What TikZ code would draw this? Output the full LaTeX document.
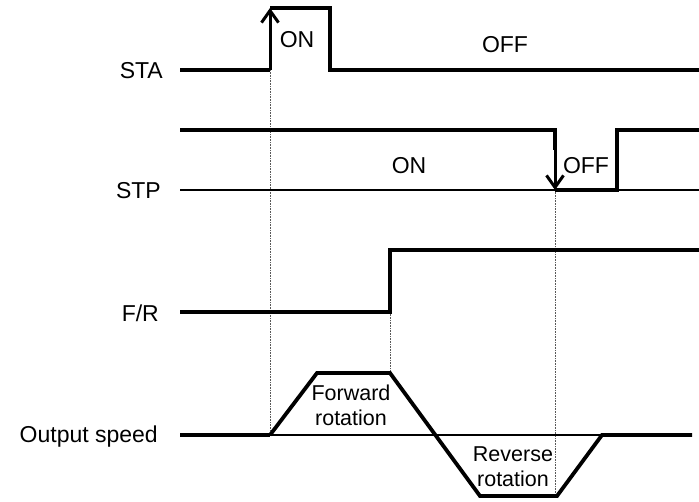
\documentclass[tikz,border=0pt]{standalone}
\usepackage{fontspec}
\setmainfont{Liberation Sans}
\usetikzlibrary{arrows.meta}
\begin{document}
\begin{tikzpicture}[
  x=1pt, y=-1pt,
  sig/.style={line width=3.8pt, line join=miter},
  base/.style={line width=1.4pt},
  guide/.style={densely dotted, line width=0.6pt, gray!70!black},
  edge/.style={line width=3pt, -{Straight Barb[length=12pt, width=17pt, line width=3pt]}},
  lbl/.style={font=\fontsize{23}{26}\selectfont, inner sep=0pt},
  signame/.style={lbl, anchor=east},
  rot/.style={font=\fontsize{21.5}{25}\selectfont, inner sep=0pt, align=center}
]
\useasboundingbox (0,0) rectangle (699,501);
% guide lines
\draw[guide] (270,70) -- (270,435);
\draw[guide] (390,312) -- (390,373);
\draw[guide] (555,190) -- (555,496);
% STA
\node[signame] (sta) at (163,71) {STA};
\draw[sig] (180,70) -- (270,70);
\draw[edge] (270,70) -- (270,8);
\draw[sig] (270,8) -- (330,8) -- (330,70) -- (699,70);
\node[lbl] (staon) at (297,40) {ON};
\node[lbl] (staoff) at (505,45) {OFF};
% STP
\node[signame] (stp) at (161,191) {STP};
\draw[base] (180,190) -- (699,190);
\draw[sig] (180,130) -- (555,130) -- (555,150);
\draw[edge] (555,130) -- (555,190);
\draw[sig] (555,190) -- (617,190) -- (617,130) -- (699,130);
\node[lbl] (stpon) at (409,166) {ON};
\node[lbl] (stpoff) at (586,166) {OFF};
% F/R
\node[signame] (fr) at (159,313) {F/R};
\draw[sig] (180,312) -- (390,312) -- (390,250) -- (699,250);
% Output speed
\node[signame] (out) at (158,437) {Output speed};
\draw[sig] (180,435) -- (270,435);
\draw[base] (270,435) -- (602,435);
\draw[sig] (270,435) -- (317,373) -- (390,373) -- (480,496) -- (557,496) -- (602,435) -- (692,435);
\node[rot] (fwd) at (351,405) {Forward\\rotation};
\node[rot] (rev) at (513,467) {Reverse\\rotation};
\end{tikzpicture}
\end{document}
